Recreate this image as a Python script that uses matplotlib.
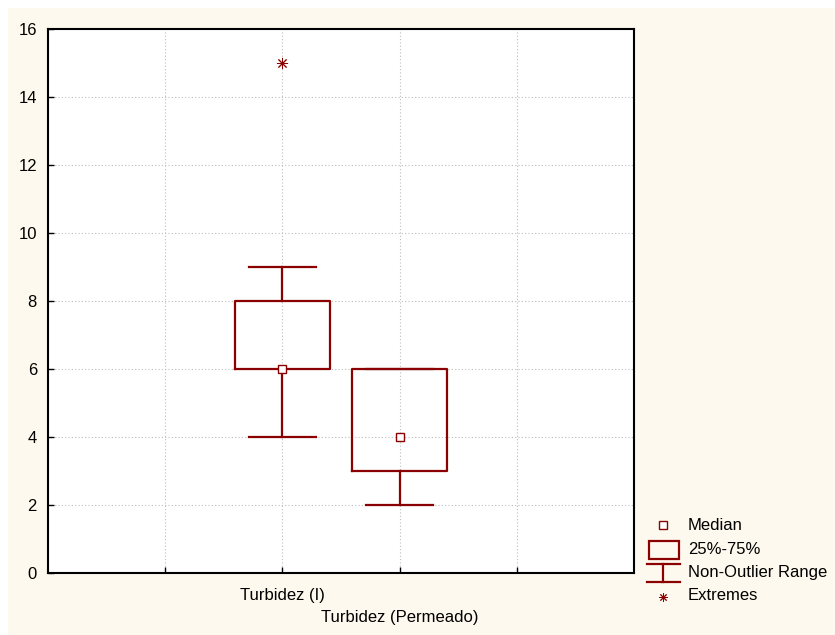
import matplotlib
matplotlib.use('Agg')
import matplotlib.pyplot as plt
from matplotlib.patches import Rectangle

plt.rcParams['font.family'] = ['Liberation Sans', 'DejaVu Sans']
plt.rcParams['font.size'] = 12

# 数据
categories = ['Turbidez (I)', 'Turbidez (Permeado)']
positions = [2, 3]
medians = [6, 4]
q1s = [6, 3]
q3s = [8, 6]
whis_lo = [4, 2]
whis_hi = [9, 6]
extremes = [[15], []]

BOX_COLOR = '#8b0000'
BG = '#fdf9ee'

fig = plt.figure(figsize=(8.35, 6.35), dpi=100)
fig.patch.set_facecolor('white')
fig.add_artist(Rectangle((8 / 835, 0), 1 - 8 / 835, 1 - 8 / 635,
                         transform=fig.transFigure, facecolor=BG,
                         edgecolor='none', zorder=-10))

ax = fig.add_axes([48 / 835, 1 - 573 / 635, (634 - 48) / 835, (573 - 29) / 635])
ax.set_facecolor('white')

stats = []
for i in range(len(categories)):
    stats.append({'med': medians[i], 'q1': q1s[i], 'q3': q3s[i],
                  'whislo': whis_lo[i], 'whishi': whis_hi[i], 'fliers': []})

line_kw = dict(color=BOX_COLOR, linewidth=1.6)
ax.bxp(stats, positions=positions, widths=0.81, capwidths=0.57,
       showfliers=False, boxprops=line_kw, whiskerprops=line_kw,
       capprops=line_kw, medianprops=dict(linestyle='none'),
       manage_ticks=False, zorder=3)

# 中位数和极端值
ax.plot(positions, medians, linestyle='none', marker='s', markersize=6,
        markerfacecolor='white', markeredgecolor=BOX_COLOR,
        markeredgewidth=1.0, zorder=4)
for p, ext in zip(positions, extremes):
    if ext:
        ax.plot([p] * len(ext), ext, linestyle='none', marker=(8, 2, 0),
                markersize=8, color=BOX_COLOR, markeredgewidth=0.7, zorder=4)

ax.set_xlim(0, 5)
ax.set_ylim(0, 16)
ax.set_yticks(range(0, 17, 2))
ax.set_xticks([1, 2, 3, 4])
ax.set_xticklabels(['', categories[0], '\n' + categories[1], ''],
                   linespacing=1.6)
ax.tick_params(direction='in', length=4, width=1, colors='black',
               labelsize=12)
ax.tick_params(axis='x', pad=11)
ax.tick_params(axis='y', pad=8)
ax.grid(True, linestyle=(0, (1, 2)), color='#bdbdbd', linewidth=0.8, zorder=0)
for sp in ax.spines.values():
    sp.set_linewidth(1.5)

# 图例（手动绘制）
lax = fig.add_axes([640 / 835, 1 - 610 / 635, 195 / 835, 100 / 635])
lax.set_xlim(640, 835)
lax.set_ylim(610, 510)
lax.axis('off')
lax.plot([663], [525], marker='s', markersize=6, markerfacecolor='white',
         markeredgecolor=BOX_COLOR, markeredgewidth=1.0)
lax.add_patch(Rectangle((649, 541), 30, 18, fill=False,
                        edgecolor=BOX_COLOR, linewidth=1.6))
lax.plot([647, 680], [564, 564], **line_kw)
lax.plot([647, 680], [582, 582], **line_kw)
lax.plot([663, 663], [564, 582], **line_kw)
lax.plot([663], [597], marker=(8, 2, 0), markersize=6, color=BOX_COLOR,
         markeredgewidth=0.7)
labels = ['Median', '25%-75%', 'Non-Outlier Range', 'Extremes']
for y, lab in zip([525, 549, 573, 596], labels):
    lax.text(688, y, lab, va='center', ha='left', fontsize=12)

fig.savefig('out.png', dpi=100, facecolor=fig.get_facecolor())
